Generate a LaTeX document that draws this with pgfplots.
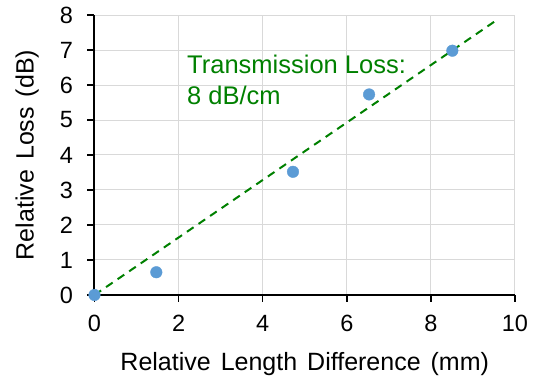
\documentclass[border=0pt]{standalone}
\usepackage{fontspec}
\setmainfont{Liberation Sans}
\usepackage{pgfplots}
\pgfplotsset{compat=1.18}
\definecolor{ptblue}{HTML}{5B9BD5}
\definecolor{lossgreen}{RGB}{0,128,0}
\definecolor{gridgray}{RGB}{217,217,217}
\pgfplotstableread{
x y
0 0
1.47 0.65
4.72 3.52
6.53 5.73
8.51 6.98
}\measured
\begin{document}
\begin{tikzpicture}
\begin{axis}[
  scale only axis, width=420.5pt, height=280pt,
  xmin=0, xmax=10, ymin=0, ymax=8,
  xtick={0,2,4,6,8,10}, ytick={0,1,2,3,4,5,6,7,8},
  axis x line*=bottom, axis y line*=left,
  axis line style={-, line width=2pt, black},
  tick align=outside, major tick length=7pt,
  tick style={black, line width=1.6pt},
  grid=major, major grid style={gridgray, line width=1pt},
  /pgf/number format/assume math mode=true,
  tick label style={font=\fontsize{23.5}{27}\selectfont},
  xticklabel shift=10pt, yticklabel shift=11pt,
  xlabel={Relative\hspace{0.4em}Length\hspace{0.4em}Difference\hspace{0.4em}(mm)},
  ylabel={Relative\hspace{0.4em}Loss\hspace{0.4em}(dB)},
  label style={font=\fontsize{25}{29}\selectfont},
  xlabel style={at={(axis description cs:0.5,-0.271)}, anchor=base},
  ylabel style={at={(axis description cs:-0.145,0.5)}, anchor=base},
  clip=false,
]
\addplot[only marks, mark=*, mark size=5.8pt, mark options={fill=ptblue, draw=ptblue}] table {\measured};
\addplot[lossgreen, line width=2pt, dash pattern=on 8pt off 6pt] coordinates {(0,0) (9.51,7.81)};
\node[anchor=base west, inner sep=0, text=lossgreen, font=\fontsize{25.5}{30}\selectfont] at (axis cs:2.2,6.334) {Transmission Loss:};
\node[anchor=base west, inner sep=0, text=lossgreen, font=\fontsize{25.5}{30}\selectfont] at (axis cs:2.2,5.457) {8 dB/cm};
\end{axis}
\pgfresetboundingbox
\path[use as bounding box] (-94.5pt,-82pt) rectangle (444.5pt,295pt);
\end{tikzpicture}
\end{document}
